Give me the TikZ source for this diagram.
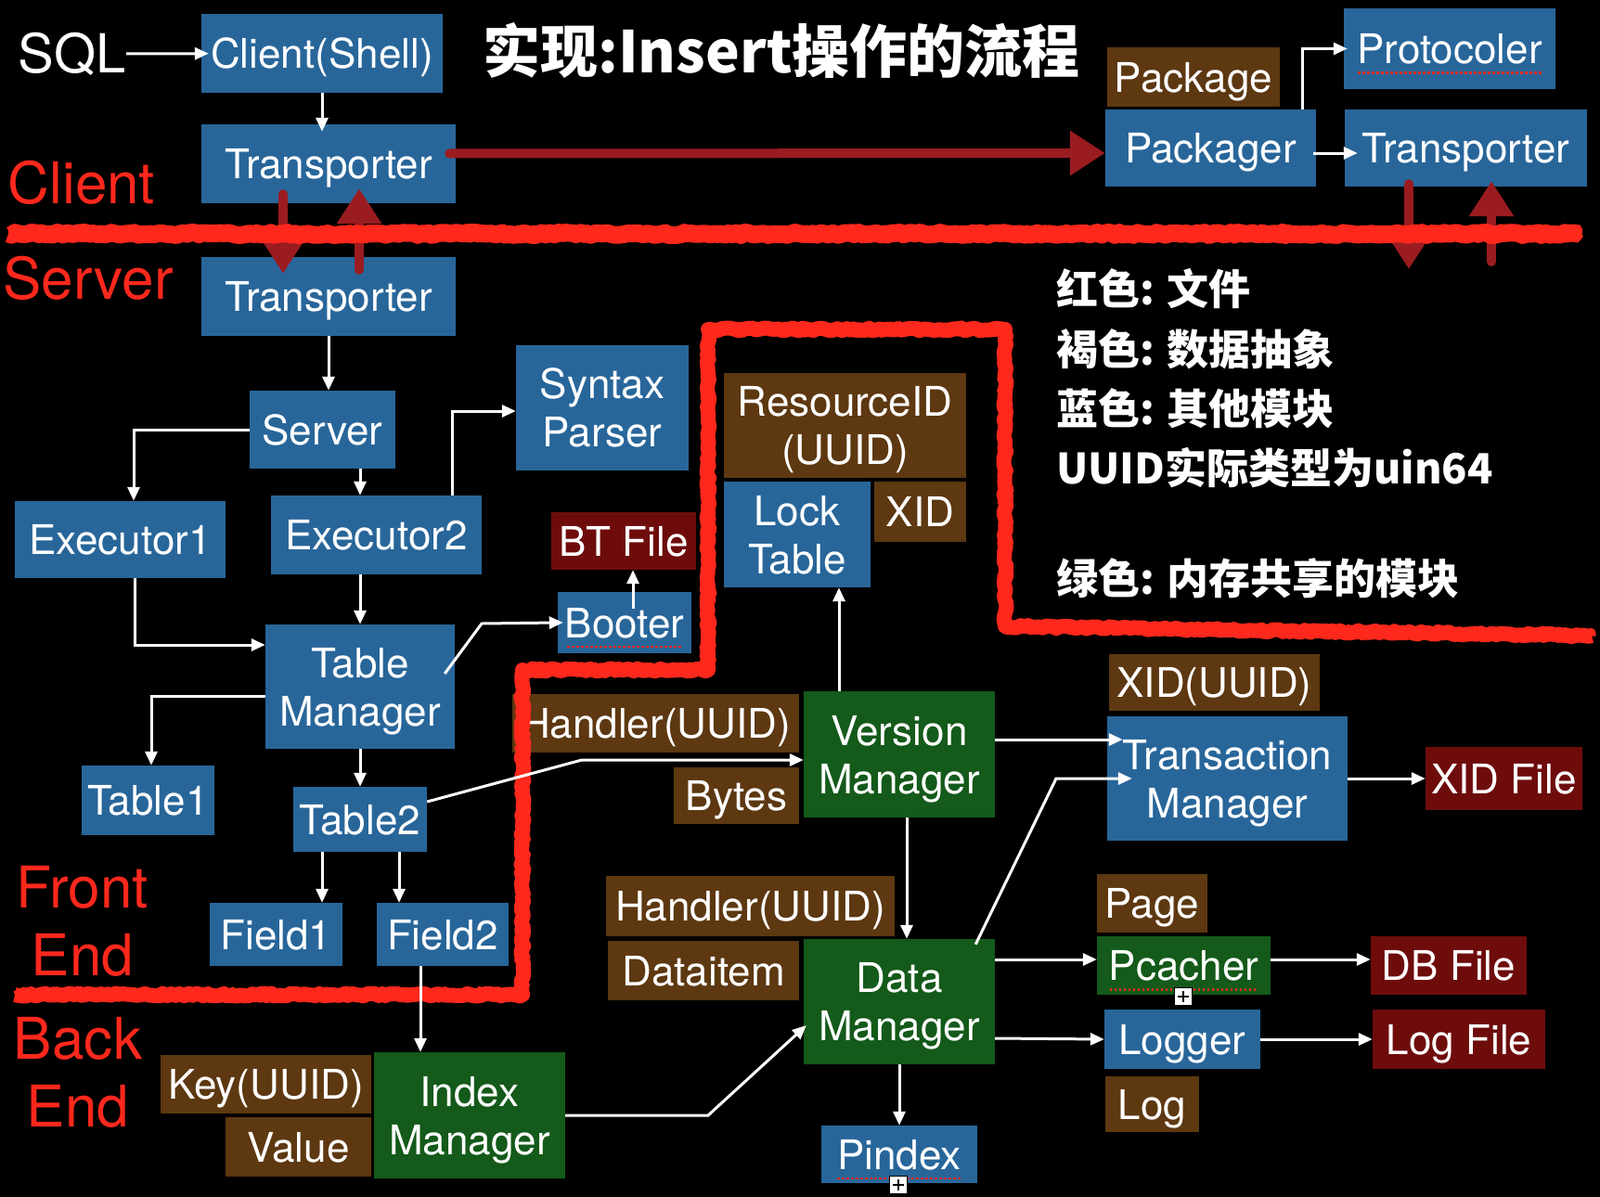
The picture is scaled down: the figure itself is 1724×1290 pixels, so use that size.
\documentclass[tikz,border=0pt]{standalone}
\usepackage{fontspec}
\setmainfont{TeX Gyre Heros}
\newfontfamily\cjk{Noto Sans CJK SC}
\usetikzlibrary{arrows.meta,decorations.pathmorphing,calc}
\definecolor{boxblue}{RGB}{40,102,154}
\definecolor{boxbrown}{RGB}{93,56,17}
\definecolor{boxgreen}{RGB}{20,90,26}
\definecolor{filered}{RGB}{110,12,12}
\definecolor{labred}{RGB}{255,40,28}
\definecolor{arrred}{RGB}{155,28,32}
\begin{document}
\begin{tikzpicture}[x=1pt,y=-1pt,
  sz/.style 2 args={minimum width=#1pt, minimum height=#2pt},
  box/.style={inner sep=0pt, text=white, align=center, text depth=0pt, font=\fontsize{44}{52}\selectfont},
  bluebox/.style={box, fill=boxblue},
  brownbox/.style={box, fill=boxbrown},
  greenbox/.style={box, fill=boxgreen},
  filebox/.style={box, fill=filered},
  arr/.style={draw=white, line width=3pt, -{Triangle[length=15pt,width=13pt]}},
  redarr/.style={draw=arrred, line width=10pt, line cap=round, -{Triangle[length=38pt,width=46pt]}},
  rough/.style={draw=labred, line width=#1, line join=round, decorate,
    decoration={random steps, segment length=4pt, amplitude=1.5pt}},
  roughedge/.style={draw=labred, line width=#1, line join=round, decorate,
    decoration={random steps, segment length=2.5pt, amplitude=5pt}},
  lab/.style={inner sep=0pt, text=labred, align=center, font=\fontsize{62}{73}\selectfont},
  legend/.style={anchor=west, inner sep=0pt, text=white, font=\cjk\bfseries\fontsize{45}{45}\selectfont},
  spell/.style={draw=labred, line width=2.5pt, dash pattern=on 2.5pt off 2.5pt},
  plusbox/.style={draw=black, fill=white, line width=1.2pt, inner sep=0pt, minimum size=19pt},
  plussign/.style={draw=black, line width=1.6pt}
]
\fill[black] (0,0) rectangle (1724,1290);
\useasboundingbox (0,0) rectangle (1724,1290);

% ---- boxes ----
\node[bluebox, sz={260}{85}] (clientshell) at (347,57.5) {Client(Shell)};
\node[bluebox, sz={274}{85}] (ctrans) at (354,176.5) {Transporter};
\node[bluebox, sz={274}{85}] (strans) at (354,319.5) {Transporter};
\node[brownbox, sz={186}{64}] (package) at (1286,83) {Package};
\node[bluebox, sz={227}{83}] (packager) at (1304.5,159.5) {Packager};
\node[bluebox, sz={228}{87}] (protocoler) at (1562,52.5) {Protocoler};
\node[bluebox, sz={261}{83}] (rtrans) at (1579.5,159.5) {Transporter};
\node[bluebox, sz={157}{84}] (server) at (347.5,463) {Server};
\node[bluebox, sz={186}{135}] (syntax) at (649,439.5) {Syntax\\Parser};
\node[bluebox, sz={227}{83}] (exec1) at (129.5,581.5) {Executor1};
\node[bluebox, sz={227}{85}] (exec2) at (405.5,576.5) {Executor2};
\node[bluebox, sz={204}{134}] (tablemgr) at (388,740) {Table\\Manager};
\node[filebox, sz={156}{62}] (btfile) at (672,583) {BT File};
\node[bluebox, sz={144}{66}] (booter) at (673,671) {Booter};
\node[bluebox, sz={143}{75}] (table1) at (159.5,862.5) {Table1};
\node[bluebox, sz={144}{70}] (table2) at (388,883) {Table2};
\node[bluebox, sz={143}{68}] (field1) at (297.5,1007) {Field1};
\node[bluebox, sz={142}{68}] (field2) at (477,1007) {Field2};
\node[brownbox, sz={261}{113}] (resid) at (910.5,458.5) {ResourceID\\(UUID)};
\node[bluebox, sz={158}{114}] (locktable) at (859,576) {Lock\\Table};
\node[brownbox, sz={99}{65}] (xid) at (991.5,551.5) {XID};
\node[greenbox, sz={206}{136}] (vm) at (969,813) {Version\\Manager};
\node[brownbox, sz={309}{63}] (handler1) at (706.5,779.5) {Handler(UUID)};
\node[brownbox, sz={135}{61}] (bytes) at (793.5,857.5) {Bytes};
\node[bluebox, sz={259}{134}] (tm) at (1322.5,839) {Transaction\\Manager};
\node[brownbox, sz={227}{61}] (xiduuid) at (1308.5,735.5) {XID(UUID)};
\node[filebox, sz={169}{68}] (xidfile) at (1620.5,839) {XID File};
\node[greenbox, sz={206}{135}] (dm) at (969,1079.5) {Data\\Manager};
\node[brownbox, sz={311}{65}] (handler2) at (808.5,976.5) {Handler(UUID)};
\node[brownbox, sz={206}{64}] (dataitem) at (758,1046) {Dataitem};
\node[brownbox, sz={119}{63}] (page) at (1241.5,973.5) {Page};
\node[greenbox, sz={187}{63}] (pcacher) at (1275.5,1040.5) {Pcacher};
\node[filebox, sz={168}{63}] (dbfile) at (1561,1040.5) {DB File};
\node[bluebox, sz={168}{64}] (logger) at (1274,1120) {Logger};
\node[filebox, sz={186}{64}] (logfile) at (1572,1120) {Log File};
\node[brownbox, sz={101}{60}] (log) at (1241.5,1190) {Log};
\node[bluebox, sz={168}{62}] (pindex) at (969,1244) {Pindex};
\node[greenbox, sz={206}{136}] (im) at (506,1202) {Index\\Manager};
\node[brownbox, sz={227}{63}] (key) at (286.5,1168.5) {Key(UUID)};
\node[brownbox, sz={157}{64}] (value) at (321.5,1236) {Value};

% spell-check underlines and overflow marks
\draw[spell] ($(protocoler.base)+(-99,10)$) -- ($(protocoler.base)+(99,10)$);
\draw[spell] ($(booter.base)+(-62,10)$) -- ($(booter.base)+(62,10)$);
\draw[spell] ($(pcacher.base)+(-80,10)$) -- ($(pcacher.base)+(80,10)$);
\draw[spell] ($(pindex.base)+(-67,10)$) -- ($(pindex.base)+(67,10)$);
\node[plusbox] (plus1) at (1275,1074) {};
\draw[plussign] ($(plus1.center)+(-6,0)$) -- ($(plus1.center)+(6,0)$);
\draw[plussign] ($(plus1.center)+(0,-6)$) -- ($(plus1.center)+(0,6)$);
\node[plusbox] (plus2) at (968,1277) {};
\draw[plussign] ($(plus2.center)+(-6,0)$) -- ($(plus2.center)+(6,0)$);
\draw[plussign] ($(plus2.center)+(0,-6)$) -- ($(plus2.center)+(0,6)$);

% ---- dark red arrows ----
\coordinate (rdown) at (1518,290);
\coordinate (rup) at (1607,282);
\draw[redarr] ([xshift=-7pt,yshift=11pt]ctrans.east) -- ([yshift=-5.5pt]packager.west);
\draw[redarr] ([xshift=-49pt,yshift=10pt]ctrans.south) -- ([xshift=-49pt,yshift=-18pt]strans.north);
\draw[redarr] ([xshift=33pt,yshift=-14pt]strans.north) -- ([xshift=33pt,yshift=16pt]ctrans.south);
\draw[redarr] ([xshift=-61.5pt,yshift=3pt]rtrans.south) -- (rdown);
\draw[redarr] (rup) -- ([xshift=27.5pt,yshift=6pt]rtrans.south);

% ---- rough red boundaries ----
\draw[rough=19pt] (9,252) -- (1702,252);
\draw[roughedge=9pt] (9,252) -- (1702,252);
\draw[rough=16pt] (16,1072) -- (563,1072) -- (563,722) -- (763,722) -- (763,355) -- (1083,355) -- (1083,675) -- (1715,685);
\draw[roughedge=8pt] (16,1072) -- (563,1072) -- (563,722) -- (763,722) -- (763,355) -- (1083,355) -- (1083,675) -- (1715,685);

% ---- labels ----
\node[inner sep=0pt, text=white, font=\fontsize{58}{58}\selectfont] (sql) at (78,58) {SQL};
\node[lab] (lclient) at (88,197) {Client};
\node[lab] (lserver) at (95,300) {Server};
\node[lab] (lfront) at (89,993) {Front\\End};
\node[lab] (lback) at (84,1156) {Back\\End};
\node[inner sep=0pt, text=white, font=\cjk\bfseries\fontsize{62}{62}\selectfont] (title) at (842,55) {实现:Insert操作的流程};
\node[legend] (lg1) at (1138,311) {红色: 文件};
\node[legend] (lg2) at (1138,376) {褐色: 数据抽象};
\node[legend] (lg3) at (1138,440) {蓝色: 其他模块};
\node[legend] (lg4) at (1138,504) {UUID实际类型为uin64};
\node[legend] (lg5) at (1138,623) {绿色: 内存共享的模块};

% ---- white connectors ----
\draw[arr, shorten >=-8pt] (sql) -- (clientshell);
\draw[arr, shorten >=-8pt] (clientshell.south) -- (clientshell.south |- ctrans.north);
\draw[arr, shorten >=-4pt] ([xshift=98.5pt]packager.north) |- (protocoler.west);
\draw[arr, shorten <=-3pt, shorten >=-14pt] ([yshift=-5.5pt]packager.east) -- ([yshift=-5.5pt]rtrans.west);
\draw[arr] (strans.south) -- (strans.south |- server.north);
\draw[arr] (server.west) -| ([xshift=14.5pt]exec1.north);
\draw[arr] ([xshift=40.5pt]server.south) -- ([xshift=-17.5pt]exec2.north);
\draw[arr] ([xshift=81.5pt]exec2.north) |- ([yshift=-3.5pt]syntax.west);
\draw[arr] ([xshift=-17.5pt]exec2.south) -- (tablemgr.north);
\draw[arr] ([xshift=15.5pt]exec1.south) |- ([yshift=45pt]tablemgr.west);
\draw[arr, shorten >=-6pt] ([xshift=-11pt,yshift=14pt]tablemgr.east) -- (519,672) -- (booter.west);
\draw[arr] ([xshift=9pt,yshift=-18pt]booter.north) -- ([xshift=10pt]btfile.south);
\draw[arr] ([yshift=-10pt]tablemgr.west) -| ([xshift=3.5pt]table1.north);
\draw[arr] (tablemgr.south) -- (table2.north);
\draw[arr] ([xshift=-41pt]table2.south) -- ([xshift=49.5pt]field1.north);
\draw[arr] ([xshift=42pt]table2.south) -- ([xshift=-47pt]field2.north);
\draw[arr] ([xshift=-24pt]field2.south) -- ([xshift=-53pt]im.north);
\draw[arr] ([yshift=19pt]table2.east) -- (627,819) -- ([yshift=-6pt]vm.west);
\draw[arr] ([xshift=-65pt]vm.north) -- ([xshift=45pt]locktable.south);
\draw[arr, shorten >=-17pt] ([yshift=16pt]vm.east) -- ([yshift=42pt]tm.west);
\draw[arr] (tm.east) -- (xidfile.west);
\draw[arr] ([xshift=8pt]vm.south) -- ([xshift=8pt]dm.north);
\draw[arr, shorten >=-27pt] ([xshift=-21pt,yshift=-6pt]dm.north east) -- (1138,839) -- (tm.west);
\draw[arr] ([yshift=45.5pt]dm.east) -- ([yshift=6.5pt]pcacher.west);
\draw[arr] ([yshift=6.5pt]pcacher.east) -- ([yshift=6.5pt]dbfile.west);
\draw[arr] ([yshift=-39.5pt]dm.east) -- (logger.west);
\draw[arr] (logger.east) -- (logfile.west);
\draw[arr] (dm.south) -- (pindex.north);
\draw[arr] (im.east) -- (763,1202) -- ([xshift=3pt,yshift=-25.5pt]dm.west);
\end{tikzpicture}
\end{document}
